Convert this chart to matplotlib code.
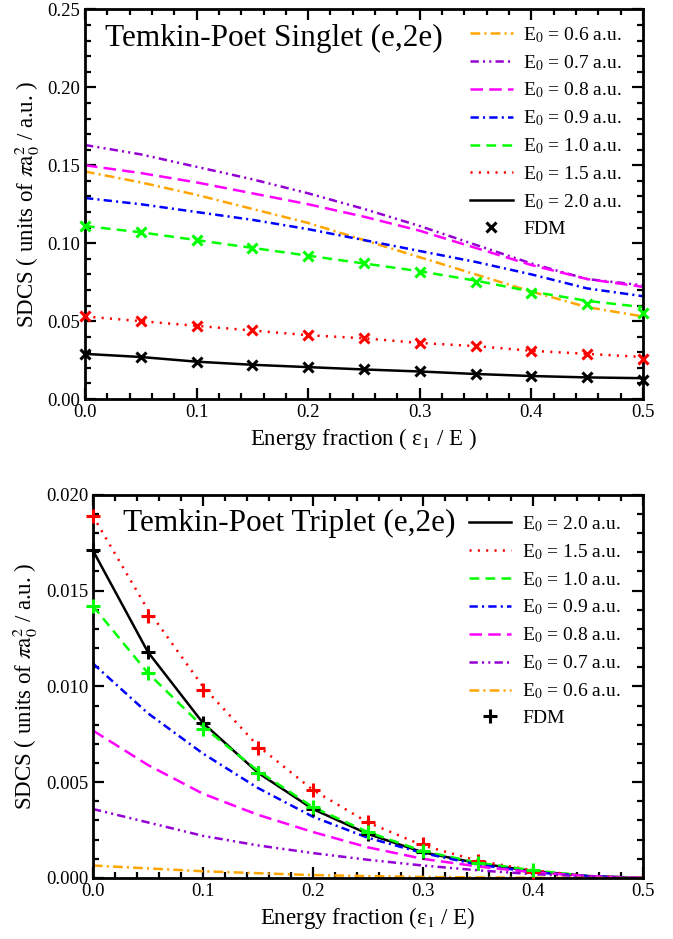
import matplotlib
matplotlib.use("Agg")
import matplotlib.pyplot as plt
from matplotlib.lines import Line2D
from matplotlib.ticker import MultipleLocator, FormatStrFormatter

plt.rcParams["font.family"] = ["Liberation Serif", "DejaVu Serif"]
plt.rcParams["mathtext.fontset"] = "stix"
plt.rcParams["lines.scale_dashes"] = False

# Energy fraction grid
x = [0.0, 0.05, 0.10, 0.15, 0.20, 0.25, 0.30, 0.35, 0.40, 0.45, 0.50]

# --- Singlet panel ---
s_06 = [0.146, 0.139, 0.131, 0.122, 0.113, 0.102, 0.091, 0.080, 0.069, 0.059, 0.053]
s_07 = [0.163, 0.157, 0.149, 0.141, 0.132, 0.122, 0.111, 0.099, 0.087, 0.077, 0.073]
s_08 = [0.150, 0.145, 0.139, 0.132, 0.125, 0.117, 0.108, 0.097, 0.086, 0.077, 0.072]
s_09 = [0.129, 0.125, 0.120, 0.115, 0.109, 0.102, 0.095, 0.088, 0.080, 0.071, 0.066]
s_10 = [0.111, 0.107, 0.102, 0.097, 0.092, 0.087, 0.082, 0.076, 0.069, 0.063, 0.059]
s_15 = [0.053, 0.050, 0.047, 0.044, 0.041, 0.039, 0.036, 0.034, 0.031, 0.029, 0.027]
s_20 = [0.029, 0.027, 0.024, 0.022, 0.0205, 0.019, 0.0177, 0.0161, 0.0148, 0.0139, 0.0134]
s_fdm_10 = [0.111, 0.107, 0.102, 0.097, 0.092, 0.087, 0.0815, 0.075, 0.068, 0.061, 0.0555]
s_fdm_15 = [0.053, 0.050, 0.047, 0.044, 0.041, 0.039, 0.036, 0.034, 0.031, 0.0287, 0.026]
s_fdm_20 = [0.029, 0.027, 0.024, 0.022, 0.0205, 0.019, 0.0178, 0.016, 0.0147, 0.014, 0.012]

# --- Triplet panel ---
t_06 = [0.00065, 0.0005, 0.00035, 0.00025, 0.00015, 0.0001, 0.00005, 0.00003, 0.00001, 0.0, 0.0]
t_07 = [0.0036, 0.0029, 0.0022, 0.0017, 0.0013, 0.00095, 0.00065, 0.0004, 0.0002, 0.00008, 0.0]
t_08 = [0.0077, 0.0059, 0.0044, 0.0033, 0.0024, 0.0016, 0.0010, 0.0006, 0.0003, 0.0001, 0.0]
t_09 = [0.0112, 0.0086, 0.0065, 0.0047, 0.0032, 0.0021, 0.0013, 0.0007, 0.0003, 0.0001, 0.0]
t_10 = [0.0142, 0.0107, 0.0079, 0.0056, 0.0037, 0.0024, 0.0014, 0.0008, 0.0004, 0.0001, 0.0]
t_15 = [0.0189, 0.0140, 0.0100, 0.0069, 0.0046, 0.0029, 0.0017, 0.0009, 0.0004, 0.0001, 0.0]
t_20 = [0.0171, 0.0118, 0.0081, 0.0055, 0.0036, 0.0023, 0.00134, 0.00077, 0.00036, 0.0001, 0.0]
x_fdm_t = [0.0, 0.05, 0.10, 0.15, 0.20, 0.25, 0.30, 0.35, 0.40]
t_fdm_10 = [0.0142, 0.0107, 0.0078, 0.0055, 0.0037, 0.0024, 0.0014, 0.0008, 0.0004]
t_fdm_15 = [0.0189, 0.0137, 0.0098, 0.0068, 0.0046, 0.0029, 0.00175, 0.00088, 0.0003]
t_fdm_20 = [0.0171, 0.0118, 0.0081, 0.0055, 0.0036, 0.0023, 0.00134, 0.00077, 0.00036]

colors = {"0.6": "#FFA500", "0.7": "#9400D3", "0.8": "#FF00FF", "0.9": "#0000FF",
          "1.0": "#00FF00", "1.5": "#FF0000", "2.0": "#000000"}
dashes = {"0.6": (0, (7, 3, 1.5, 3)),
          "0.7": (0, (6, 3, 1.5, 3, 1.5, 3)),
          "0.8": (0, (9, 4.5)),
          "0.9": (0, (6, 3, 1.5, 3)),
          "1.0": (0, (7, 4.5)),
          "1.5": (0, (1.5, 4.5)),
          "2.0": "-"}


def lab(e):
    return r"E$_0$ = " + e + " a.u."


def style_axes(ax, ymax, ymaj, ymin):
    ax.set_xlim(0, 0.5)
    ax.set_ylim(0, ymax)
    ax.xaxis.set_major_locator(MultipleLocator(0.1))
    ax.xaxis.set_minor_locator(MultipleLocator(0.02))
    ax.yaxis.set_major_locator(MultipleLocator(ymaj))
    ax.yaxis.set_minor_locator(MultipleLocator(ymin))
    ax.tick_params(which="both", direction="in", top=True, right=True,
                   labelsize=13.5, width=1.6)
    ax.tick_params(which="major", length=8)
    ax.tick_params(which="minor", length=4)
    for sp in ax.spines.values():
        sp.set_linewidth(2)


fig = plt.figure(figsize=(6.73, 9.39), dpi=100)
ax1 = fig.add_axes([0.1263, 0.575, 0.829, 0.415])
ax2 = fig.add_axes([0.138, 0.065, 0.817, 0.408])

leg_kw = dict(loc="upper right", frameon=False, fontsize=14, handlelength=2.2,
              labelspacing=0.42, borderpad=0, handletextpad=0.55)

# top: singlet
series_top = [("0.6", s_06), ("0.7", s_07), ("0.8", s_08), ("0.9", s_09),
              ("1.0", s_10), ("1.5", s_15), ("2.0", s_20)]
for e, y in series_top:
    ax1.plot(x, y, color=colors[e], linestyle=dashes[e], lw=1.8, label=lab(e))
for e, y in [("1.0", s_fdm_10), ("1.5", s_fdm_15), ("2.0", s_fdm_20)]:
    ax1.plot(x, y, "x", color=colors[e], ms=7, mew=2.2, clip_on=False, zorder=5)
h1, l1 = ax1.get_legend_handles_labels()
h1.append(Line2D([], [], ls="none", marker="x", color="k", ms=7, mew=2.2))
l1.append("FDM")
ax1.legend(h1, l1, bbox_to_anchor=(0.98, 0.985), **leg_kw)
ax1.text(0.036, 0.926, "Temkin-Poet Singlet (e,2e)", transform=ax1.transAxes,
         fontsize=22.5, va="center", ha="left")
style_axes(ax1, 0.25, 0.05, 0.01)
ax1.yaxis.set_major_formatter(FormatStrFormatter("%.2f"))
ax1.xaxis.set_major_formatter(FormatStrFormatter("%.1f"))
ax1.set_xlabel(r"Energy fraction ( ε$_1$ / E )", fontsize=16.5)
ax1.set_ylabel(r"SDCS ( units of $\pi\mathrm{a}_0^2$ / a.u. )", fontsize=16.5)

# bottom: triplet
series_bot = [("2.0", t_20), ("1.5", t_15), ("1.0", t_10), ("0.9", t_09),
              ("0.8", t_08), ("0.7", t_07), ("0.6", t_06)]
for e, y in series_bot:
    ax2.plot(x, y, color=colors[e], linestyle=dashes[e], lw=1.8, label=lab(e))
for e, y in [("2.0", t_fdm_20), ("1.5", t_fdm_15), ("1.0", t_fdm_10)]:
    ax2.plot(x_fdm_t, y, "+", color=colors[e], ms=10, mew=2.2, clip_on=False, zorder=5)
h2, l2 = ax2.get_legend_handles_labels()
h2.append(Line2D([], [], ls="none", marker="+", color="k", ms=10, mew=2.2))
l2.append("FDM")
ax2.legend(h2, l2, bbox_to_anchor=(0.978, 0.975), **leg_kw)
ax2.text(0.055, 0.925, "Temkin-Poet Triplet (e,2e)", transform=ax2.transAxes,
         fontsize=22.5, va="center", ha="left")
style_axes(ax2, 0.020, 0.005, 0.001)
ax2.yaxis.set_major_formatter(FormatStrFormatter("%.3f"))
ax2.xaxis.set_major_formatter(FormatStrFormatter("%.1f"))
ax2.set_xlabel(r"Energy fraction (ε$_1$ / E)", fontsize=16.5)
ax2.set_ylabel(r"SDCS ( units of $\pi\mathrm{a}_0^2$ / a.u. )", fontsize=16.5)

fig.savefig("out.png", dpi=100)
